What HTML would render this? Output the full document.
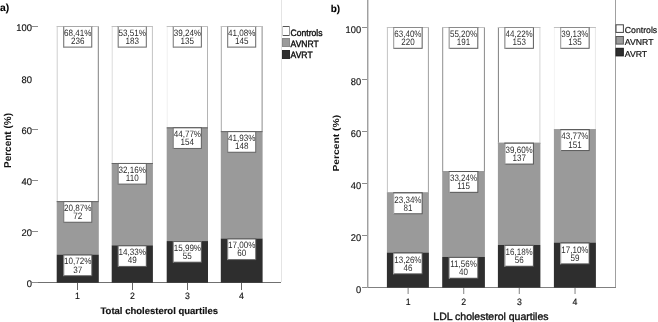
<!DOCTYPE html>
<html><head><meta charset="utf-8"><style>
html,body{margin:0;padding:0;background:#fff;}
body{width:658px;height:322px;overflow:hidden;}
svg{display:block;font-family:"Liberation Sans", sans-serif;will-change:transform;text-rendering:geometricPrecision;}
</style></head><body>
<svg width="658" height="322" viewBox="0 0 658 322">
<rect x="0" y="0" width="658" height="322" fill="#fff"/>
<rect x="32.00" y="282.00" width="249.00" height="1.00" fill="#707070"/>
<rect x="56.70" y="26.00" width="42.10" height="175.13" fill="#fff"/>
<rect x="56.70" y="26.00" width="1.00" height="175.13" fill="#cfcfcf"/>
<rect x="97.80" y="26.00" width="1.00" height="175.13" fill="#808080"/>
<rect x="56.70" y="26.00" width="42.10" height="1.00" fill="#c0c0c0"/>
<rect x="56.70" y="201.13" width="42.10" height="53.43" fill="#9a9a9a"/>
<rect x="56.70" y="201.13" width="42.10" height="1.00" fill="#666666"/>
<rect x="56.70" y="254.56" width="42.10" height="28.14" fill="#2e2e2e"/>
<rect x="63.25" y="254.56" width="29.00" height="21.60" fill="#666666"/>
<rect x="63.25" y="254.56" width="1.00" height="21.60" fill="#8a8a8a"/>
<rect x="63.25" y="254.56" width="29.00" height="1.00" fill="#666666"/>
<rect x="64.25" y="255.56" width="27.00" height="19.60" fill="#fff"/>
<text transform="translate(77.75,264.46) scale(0.88,1)" text-anchor="middle" font-size="9.2" font-weight="normal" fill="#2a2a2a">10,72%</text>
<text transform="translate(77.75,272.56) scale(0.88,1)" text-anchor="middle" font-size="9.2" font-weight="normal" fill="#2a2a2a">37</text>
<rect x="63.25" y="201.13" width="29.00" height="21.60" fill="#666666"/>
<rect x="63.25" y="201.13" width="1.00" height="21.60" fill="#8a8a8a"/>
<rect x="63.25" y="201.13" width="29.00" height="1.00" fill="#666666"/>
<rect x="64.25" y="202.13" width="27.00" height="19.60" fill="#fff"/>
<text transform="translate(77.75,211.03) scale(0.88,1)" text-anchor="middle" font-size="9.2" font-weight="normal" fill="#2a2a2a">20,87%</text>
<text transform="translate(77.75,219.13) scale(0.88,1)" text-anchor="middle" font-size="9.2" font-weight="normal" fill="#2a2a2a">72</text>
<rect x="63.25" y="26.00" width="29.00" height="21.60" fill="#666666"/>
<rect x="63.25" y="26.00" width="1.00" height="21.60" fill="#8a8a8a"/>
<rect x="63.25" y="26.00" width="29.00" height="1.00" fill="#a8a8a8"/>
<rect x="64.25" y="27.00" width="27.00" height="19.60" fill="#fff"/>
<text transform="translate(77.75,35.90) scale(0.88,1)" text-anchor="middle" font-size="9.2" font-weight="normal" fill="#2a2a2a">68,41%</text>
<text transform="translate(77.75,44.00) scale(0.88,1)" text-anchor="middle" font-size="9.2" font-weight="normal" fill="#2a2a2a">236</text>
<rect x="111.70" y="26.00" width="41.20" height="136.99" fill="#fff"/>
<rect x="111.70" y="26.00" width="1.00" height="136.99" fill="#dcdcdc"/>
<rect x="151.90" y="26.00" width="1.00" height="136.99" fill="#c4c4c4"/>
<rect x="111.70" y="26.00" width="41.20" height="1.00" fill="#c0c0c0"/>
<rect x="111.70" y="162.99" width="41.20" height="82.33" fill="#9a9a9a"/>
<rect x="111.70" y="162.99" width="41.20" height="1.00" fill="#666666"/>
<rect x="111.70" y="245.32" width="41.20" height="37.38" fill="#2e2e2e"/>
<rect x="117.80" y="245.32" width="29.00" height="21.60" fill="#666666"/>
<rect x="117.80" y="245.32" width="1.00" height="21.60" fill="#8a8a8a"/>
<rect x="117.80" y="245.32" width="29.00" height="1.00" fill="#666666"/>
<rect x="118.80" y="246.32" width="27.00" height="19.60" fill="#fff"/>
<text transform="translate(132.30,255.22) scale(0.88,1)" text-anchor="middle" font-size="9.2" font-weight="normal" fill="#2a2a2a">14,33%</text>
<text transform="translate(132.30,263.32) scale(0.88,1)" text-anchor="middle" font-size="9.2" font-weight="normal" fill="#2a2a2a">49</text>
<rect x="117.80" y="162.99" width="29.00" height="21.60" fill="#666666"/>
<rect x="117.80" y="162.99" width="1.00" height="21.60" fill="#8a8a8a"/>
<rect x="117.80" y="162.99" width="29.00" height="1.00" fill="#666666"/>
<rect x="118.80" y="163.99" width="27.00" height="19.60" fill="#fff"/>
<text transform="translate(132.30,172.89) scale(0.88,1)" text-anchor="middle" font-size="9.2" font-weight="normal" fill="#2a2a2a">32,16%</text>
<text transform="translate(132.30,180.99) scale(0.88,1)" text-anchor="middle" font-size="9.2" font-weight="normal" fill="#2a2a2a">110</text>
<rect x="117.80" y="26.00" width="29.00" height="21.60" fill="#666666"/>
<rect x="117.80" y="26.00" width="1.00" height="21.60" fill="#8a8a8a"/>
<rect x="117.80" y="26.00" width="29.00" height="1.00" fill="#a8a8a8"/>
<rect x="118.80" y="27.00" width="27.00" height="19.60" fill="#fff"/>
<text transform="translate(132.30,35.90) scale(0.88,1)" text-anchor="middle" font-size="9.2" font-weight="normal" fill="#2a2a2a">53,51%</text>
<text transform="translate(132.30,44.00) scale(0.88,1)" text-anchor="middle" font-size="9.2" font-weight="normal" fill="#2a2a2a">183</text>
<rect x="166.70" y="26.00" width="41.30" height="101.35" fill="#fff"/>
<rect x="166.70" y="26.00" width="1.00" height="101.35" fill="#f0f0f0"/>
<rect x="207.00" y="26.00" width="1.00" height="101.35" fill="#b4b4b4"/>
<rect x="166.70" y="26.00" width="41.30" height="1.00" fill="#c0c0c0"/>
<rect x="166.70" y="127.35" width="41.30" height="113.71" fill="#9a9a9a"/>
<rect x="166.70" y="127.35" width="41.30" height="1.00" fill="#666666"/>
<rect x="166.70" y="241.07" width="41.30" height="41.63" fill="#2e2e2e"/>
<rect x="172.85" y="241.07" width="29.00" height="21.60" fill="#666666"/>
<rect x="172.85" y="241.07" width="1.00" height="21.60" fill="#8a8a8a"/>
<rect x="172.85" y="241.07" width="29.00" height="1.00" fill="#666666"/>
<rect x="173.85" y="242.07" width="27.00" height="19.60" fill="#fff"/>
<text transform="translate(187.35,250.97) scale(0.88,1)" text-anchor="middle" font-size="9.2" font-weight="normal" fill="#2a2a2a">15,99%</text>
<text transform="translate(187.35,259.07) scale(0.88,1)" text-anchor="middle" font-size="9.2" font-weight="normal" fill="#2a2a2a">55</text>
<rect x="172.85" y="127.35" width="29.00" height="21.60" fill="#666666"/>
<rect x="172.85" y="127.35" width="1.00" height="21.60" fill="#8a8a8a"/>
<rect x="172.85" y="127.35" width="29.00" height="1.00" fill="#666666"/>
<rect x="173.85" y="128.35" width="27.00" height="19.60" fill="#fff"/>
<text transform="translate(187.35,137.25) scale(0.88,1)" text-anchor="middle" font-size="9.2" font-weight="normal" fill="#2a2a2a">44,77%</text>
<text transform="translate(187.35,145.35) scale(0.88,1)" text-anchor="middle" font-size="9.2" font-weight="normal" fill="#2a2a2a">154</text>
<rect x="172.85" y="26.00" width="29.00" height="21.60" fill="#666666"/>
<rect x="172.85" y="26.00" width="1.00" height="21.60" fill="#8a8a8a"/>
<rect x="172.85" y="26.00" width="29.00" height="1.00" fill="#a8a8a8"/>
<rect x="173.85" y="27.00" width="27.00" height="19.60" fill="#fff"/>
<text transform="translate(187.35,35.90) scale(0.88,1)" text-anchor="middle" font-size="9.2" font-weight="normal" fill="#2a2a2a">39,24%</text>
<text transform="translate(187.35,44.00) scale(0.88,1)" text-anchor="middle" font-size="9.2" font-weight="normal" fill="#2a2a2a">135</text>
<rect x="220.80" y="26.00" width="41.80" height="105.14" fill="#fff"/>
<rect x="220.80" y="26.00" width="1.00" height="105.14" fill="#a8a8a8"/>
<rect x="261.60" y="26.00" width="1.00" height="105.14" fill="#8c8c8c"/>
<rect x="220.80" y="26.00" width="41.80" height="1.00" fill="#c0c0c0"/>
<rect x="220.80" y="131.14" width="41.80" height="107.34" fill="#9a9a9a"/>
<rect x="220.80" y="131.14" width="41.80" height="1.00" fill="#666666"/>
<rect x="220.80" y="238.48" width="41.80" height="44.22" fill="#2e2e2e"/>
<rect x="227.20" y="238.48" width="29.00" height="21.60" fill="#666666"/>
<rect x="227.20" y="238.48" width="1.00" height="21.60" fill="#8a8a8a"/>
<rect x="227.20" y="238.48" width="29.00" height="1.00" fill="#666666"/>
<rect x="228.20" y="239.48" width="27.00" height="19.60" fill="#fff"/>
<text transform="translate(241.70,248.38) scale(0.88,1)" text-anchor="middle" font-size="9.2" font-weight="normal" fill="#2a2a2a">17,00%</text>
<text transform="translate(241.70,256.48) scale(0.88,1)" text-anchor="middle" font-size="9.2" font-weight="normal" fill="#2a2a2a">60</text>
<rect x="227.20" y="131.14" width="29.00" height="21.60" fill="#666666"/>
<rect x="227.20" y="131.14" width="1.00" height="21.60" fill="#8a8a8a"/>
<rect x="227.20" y="131.14" width="29.00" height="1.00" fill="#666666"/>
<rect x="228.20" y="132.14" width="27.00" height="19.60" fill="#fff"/>
<text transform="translate(241.70,141.04) scale(0.88,1)" text-anchor="middle" font-size="9.2" font-weight="normal" fill="#2a2a2a">41,93%</text>
<text transform="translate(241.70,149.14) scale(0.88,1)" text-anchor="middle" font-size="9.2" font-weight="normal" fill="#2a2a2a">148</text>
<rect x="227.20" y="26.00" width="29.00" height="21.60" fill="#666666"/>
<rect x="227.20" y="26.00" width="1.00" height="21.60" fill="#8a8a8a"/>
<rect x="227.20" y="26.00" width="29.00" height="1.00" fill="#a8a8a8"/>
<rect x="228.20" y="27.00" width="27.00" height="19.60" fill="#fff"/>
<text transform="translate(241.70,35.90) scale(0.88,1)" text-anchor="middle" font-size="9.2" font-weight="normal" fill="#2a2a2a">41,08%</text>
<text transform="translate(241.70,44.00) scale(0.88,1)" text-anchor="middle" font-size="9.2" font-weight="normal" fill="#2a2a2a">145</text>
<rect x="281.00" y="0.00" width="1.00" height="282.00" fill="#e4e4e4"/>
<rect x="32.00" y="282.00" width="6.00" height="1.00" fill="#8c8c8c"/>
<text transform="translate(31.90,287.40) scale(0.97,1)" text-anchor="end" font-size="9.7" font-weight="normal" fill="#111111" stroke="#111111" stroke-width="0.15">0</text>
<rect x="32.00" y="231.00" width="6.00" height="1.00" fill="#8c8c8c"/>
<text transform="translate(31.90,236.40) scale(0.97,1)" text-anchor="end" font-size="9.7" font-weight="normal" fill="#111111" stroke="#111111" stroke-width="0.15">20</text>
<rect x="32.00" y="180.00" width="6.00" height="1.00" fill="#8c8c8c"/>
<text transform="translate(31.90,185.40) scale(0.97,1)" text-anchor="end" font-size="9.7" font-weight="normal" fill="#111111" stroke="#111111" stroke-width="0.15">40</text>
<rect x="32.00" y="129.00" width="6.00" height="1.00" fill="#8c8c8c"/>
<text transform="translate(31.90,134.40) scale(0.97,1)" text-anchor="end" font-size="9.7" font-weight="normal" fill="#111111" stroke="#111111" stroke-width="0.15">60</text>
<text transform="translate(31.90,82.90) scale(0.97,1)" text-anchor="end" font-size="9.7" font-weight="normal" fill="#111111" stroke="#111111" stroke-width="0.15">80</text>
<rect x="32.00" y="26.00" width="6.00" height="1.00" fill="#8c8c8c"/>
<text transform="translate(31.90,31.40) scale(0.97,1)" text-anchor="end" font-size="9.7" font-weight="normal" fill="#111111" stroke="#111111" stroke-width="0.15">100</text>
<rect x="77.00" y="283.00" width="1.00" height="7.00" fill="#666666"/>
<text transform="translate(77.50,298.80) scale(0.95,1)" text-anchor="middle" font-size="9.2" font-weight="normal" fill="#111111" stroke="#111111" stroke-width="0.15">1</text>
<rect x="132.00" y="283.00" width="1.00" height="7.00" fill="#666666"/>
<text transform="translate(132.50,298.80) scale(0.95,1)" text-anchor="middle" font-size="9.2" font-weight="normal" fill="#111111" stroke="#111111" stroke-width="0.15">2</text>
<rect x="187.00" y="283.00" width="1.00" height="7.00" fill="#666666"/>
<text transform="translate(187.50,298.80) scale(0.95,1)" text-anchor="middle" font-size="9.2" font-weight="normal" fill="#111111" stroke="#111111" stroke-width="0.15">3</text>
<rect x="241.00" y="283.00" width="1.00" height="7.00" fill="#666666"/>
<text transform="translate(241.50,298.80) scale(0.95,1)" text-anchor="middle" font-size="9.2" font-weight="normal" fill="#111111" stroke="#111111" stroke-width="0.15">4</text>
<rect x="282.00" y="26.00" width="8.00" height="10.00" fill="#555"/>
<rect x="282.00" y="26.00" width="1.00" height="10.00" fill="#c8c8c8"/>
<rect x="289.00" y="26.00" width="1.00" height="10.00" fill="#999999"/>
<rect x="283.00" y="27.00" width="6.00" height="8.00" fill="#ffffff"/>
<text transform="translate(290.60,35.60) scale(0.92,1)" text-anchor="start" font-size="9.3" font-weight="normal" fill="#111111" stroke="#111111" stroke-width="0.4">Controls</text>
<rect x="282.00" y="38.00" width="8.00" height="9.00" fill="#8a8a8a"/>
<rect x="283.00" y="39.00" width="6.00" height="7.00" fill="#9a9a9a"/>
<text transform="translate(290.60,47.00) scale(0.92,1)" text-anchor="start" font-size="9.3" font-weight="normal" fill="#111111" stroke="#111111" stroke-width="0.4">AVNRT</text>
<rect x="282.00" y="50.00" width="8.00" height="9.00" fill="#2a2a2a"/>
<rect x="283.00" y="51.00" width="6.00" height="7.00" fill="#2e2e2e"/>
<text transform="translate(290.60,58.20) scale(0.92,1)" text-anchor="start" font-size="9.3" font-weight="normal" fill="#111111" stroke="#111111" stroke-width="0.4">AVRT</text>
<text transform="translate(100.50,314.20)" text-anchor="start" font-size="9.5" font-weight="bold" fill="#111111" stroke="#111111" stroke-width="0.15">Total cholesterol quartiles</text>
<text transform="translate(10.9,140.5) rotate(-90) scale(1,1.0)" text-anchor="middle" font-size="10" font-weight="bold" fill="#111111" stroke="#111111" stroke-width="0">Percent (%)</text>
<text transform="translate(0.10,10.60)" text-anchor="start" font-size="10.3" font-weight="bold" fill="#000" stroke="#000" stroke-width="0.1">a)</text>
<rect x="362.00" y="287.00" width="254.00" height="1.00" fill="#808080"/>
<rect x="386.90" y="27.00" width="42.00" height="165.44" fill="#fff"/>
<rect x="386.90" y="27.00" width="1.00" height="165.44" fill="#c4c4c4"/>
<rect x="427.90" y="27.00" width="1.00" height="165.44" fill="#a0a0a0"/>
<rect x="386.90" y="27.00" width="42.00" height="1.00" fill="#c0c0c0"/>
<rect x="386.90" y="192.44" width="42.00" height="60.08" fill="#9a9a9a"/>
<rect x="386.90" y="192.44" width="42.00" height="1.00" fill="#9a9a9a"/>
<rect x="386.90" y="252.52" width="42.00" height="35.12" fill="#2e2e2e"/>
<rect x="393.15" y="252.52" width="29.50" height="21.80" fill="#5a5a5a"/>
<rect x="393.15" y="252.52" width="1.00" height="21.80" fill="#b4b4b4"/>
<rect x="393.15" y="252.52" width="29.50" height="1.00" fill="#5a5a5a"/>
<rect x="394.15" y="253.52" width="27.50" height="19.80" fill="#fff"/>
<text transform="translate(407.90,262.62) scale(0.862,1)" text-anchor="middle" font-size="9.3" font-weight="normal" fill="#303030">13,26%</text>
<text transform="translate(407.90,270.82) scale(0.862,1)" text-anchor="middle" font-size="9.3" font-weight="normal" fill="#303030">46</text>
<rect x="393.15" y="192.44" width="29.50" height="21.80" fill="#5a5a5a"/>
<rect x="393.15" y="192.44" width="1.00" height="21.80" fill="#b4b4b4"/>
<rect x="393.15" y="192.44" width="29.50" height="1.00" fill="#5a5a5a"/>
<rect x="394.15" y="193.44" width="27.50" height="19.80" fill="#fff"/>
<text transform="translate(407.90,202.54) scale(0.862,1)" text-anchor="middle" font-size="9.3" font-weight="normal" fill="#303030">23,34%</text>
<text transform="translate(407.90,210.74) scale(0.862,1)" text-anchor="middle" font-size="9.3" font-weight="normal" fill="#303030">81</text>
<rect x="393.15" y="27.00" width="29.50" height="21.80" fill="#5a5a5a"/>
<rect x="393.15" y="27.00" width="1.00" height="21.80" fill="#b4b4b4"/>
<rect x="393.15" y="27.00" width="29.50" height="1.00" fill="#8a8a8a"/>
<rect x="394.15" y="28.00" width="27.50" height="19.80" fill="#fff"/>
<text transform="translate(407.90,37.10) scale(0.862,1)" text-anchor="middle" font-size="9.3" font-weight="normal" fill="#303030">63,40%</text>
<text transform="translate(407.90,45.30) scale(0.862,1)" text-anchor="middle" font-size="9.3" font-weight="normal" fill="#303030">220</text>
<rect x="442.20" y="27.00" width="42.70" height="144.02" fill="#fff"/>
<rect x="442.20" y="27.00" width="1.00" height="144.02" fill="#909090"/>
<rect x="483.90" y="27.00" width="1.00" height="144.02" fill="#8a8a8a"/>
<rect x="442.20" y="27.00" width="42.70" height="1.00" fill="#c0c0c0"/>
<rect x="442.20" y="171.02" width="42.70" height="85.92" fill="#9a9a9a"/>
<rect x="442.20" y="171.02" width="42.70" height="1.00" fill="#9a9a9a"/>
<rect x="442.20" y="256.94" width="42.70" height="30.70" fill="#2e2e2e"/>
<rect x="448.80" y="256.94" width="29.50" height="21.80" fill="#5a5a5a"/>
<rect x="448.80" y="256.94" width="1.00" height="21.80" fill="#b4b4b4"/>
<rect x="448.80" y="256.94" width="29.50" height="1.00" fill="#5a5a5a"/>
<rect x="449.80" y="257.94" width="27.50" height="19.80" fill="#fff"/>
<text transform="translate(463.55,267.04) scale(0.862,1)" text-anchor="middle" font-size="9.3" font-weight="normal" fill="#303030">11,56%</text>
<text transform="translate(463.55,275.24) scale(0.862,1)" text-anchor="middle" font-size="9.3" font-weight="normal" fill="#303030">40</text>
<rect x="448.80" y="171.02" width="29.50" height="21.80" fill="#5a5a5a"/>
<rect x="448.80" y="171.02" width="1.00" height="21.80" fill="#b4b4b4"/>
<rect x="448.80" y="171.02" width="29.50" height="1.00" fill="#5a5a5a"/>
<rect x="449.80" y="172.02" width="27.50" height="19.80" fill="#fff"/>
<text transform="translate(463.55,181.12) scale(0.862,1)" text-anchor="middle" font-size="9.3" font-weight="normal" fill="#303030">33,24%</text>
<text transform="translate(463.55,189.32) scale(0.862,1)" text-anchor="middle" font-size="9.3" font-weight="normal" fill="#303030">115</text>
<rect x="448.80" y="27.00" width="29.50" height="21.80" fill="#5a5a5a"/>
<rect x="448.80" y="27.00" width="1.00" height="21.80" fill="#b4b4b4"/>
<rect x="448.80" y="27.00" width="29.50" height="1.00" fill="#8a8a8a"/>
<rect x="449.80" y="28.00" width="27.50" height="19.80" fill="#fff"/>
<text transform="translate(463.55,37.10) scale(0.862,1)" text-anchor="middle" font-size="9.3" font-weight="normal" fill="#303030">55,20%</text>
<text transform="translate(463.55,45.30) scale(0.862,1)" text-anchor="middle" font-size="9.3" font-weight="normal" fill="#303030">191</text>
<rect x="497.90" y="27.00" width="42.50" height="115.77" fill="#fff"/>
<rect x="497.90" y="27.00" width="1.00" height="115.77" fill="#808080"/>
<rect x="539.40" y="27.00" width="1.00" height="115.77" fill="#d4d4d4"/>
<rect x="497.90" y="27.00" width="42.50" height="1.00" fill="#c0c0c0"/>
<rect x="497.90" y="142.77" width="42.50" height="102.16" fill="#9a9a9a"/>
<rect x="497.90" y="142.77" width="42.50" height="1.00" fill="#9a9a9a"/>
<rect x="497.90" y="244.93" width="42.50" height="42.71" fill="#2e2e2e"/>
<rect x="504.40" y="244.93" width="29.50" height="21.80" fill="#5a5a5a"/>
<rect x="504.40" y="244.93" width="1.00" height="21.80" fill="#b4b4b4"/>
<rect x="504.40" y="244.93" width="29.50" height="1.00" fill="#5a5a5a"/>
<rect x="505.40" y="245.93" width="27.50" height="19.80" fill="#fff"/>
<text transform="translate(519.15,255.03) scale(0.862,1)" text-anchor="middle" font-size="9.3" font-weight="normal" fill="#303030">16,18%</text>
<text transform="translate(519.15,263.23) scale(0.862,1)" text-anchor="middle" font-size="9.3" font-weight="normal" fill="#303030">56</text>
<rect x="504.40" y="142.77" width="29.50" height="21.80" fill="#5a5a5a"/>
<rect x="504.40" y="142.77" width="1.00" height="21.80" fill="#b4b4b4"/>
<rect x="504.40" y="142.77" width="29.50" height="1.00" fill="#5a5a5a"/>
<rect x="505.40" y="143.77" width="27.50" height="19.80" fill="#fff"/>
<text transform="translate(519.15,152.87) scale(0.862,1)" text-anchor="middle" font-size="9.3" font-weight="normal" fill="#303030">39,60%</text>
<text transform="translate(519.15,161.07) scale(0.862,1)" text-anchor="middle" font-size="9.3" font-weight="normal" fill="#303030">137</text>
<rect x="504.40" y="27.00" width="29.50" height="21.80" fill="#5a5a5a"/>
<rect x="504.40" y="27.00" width="1.00" height="21.80" fill="#b4b4b4"/>
<rect x="504.40" y="27.00" width="29.50" height="1.00" fill="#8a8a8a"/>
<rect x="505.40" y="28.00" width="27.50" height="19.80" fill="#fff"/>
<text transform="translate(519.15,37.10) scale(0.862,1)" text-anchor="middle" font-size="9.3" font-weight="normal" fill="#303030">44,22%</text>
<text transform="translate(519.15,45.30) scale(0.862,1)" text-anchor="middle" font-size="9.3" font-weight="normal" fill="#303030">153</text>
<rect x="553.90" y="27.00" width="42.00" height="102.24" fill="#fff"/>
<rect x="553.90" y="27.00" width="1.00" height="102.24" fill="#f4f4f4"/>
<rect x="594.90" y="27.00" width="1.00" height="102.24" fill="#e8e8e8"/>
<rect x="553.90" y="27.00" width="42.00" height="1.00" fill="#c0c0c0"/>
<rect x="553.90" y="129.24" width="42.00" height="113.30" fill="#9a9a9a"/>
<rect x="553.90" y="129.24" width="42.00" height="1.00" fill="#9a9a9a"/>
<rect x="553.90" y="242.54" width="42.00" height="45.10" fill="#2e2e2e"/>
<rect x="560.15" y="242.54" width="29.50" height="21.80" fill="#5a5a5a"/>
<rect x="560.15" y="242.54" width="1.00" height="21.80" fill="#b4b4b4"/>
<rect x="560.15" y="242.54" width="29.50" height="1.00" fill="#5a5a5a"/>
<rect x="561.15" y="243.54" width="27.50" height="19.80" fill="#fff"/>
<text transform="translate(574.90,252.64) scale(0.862,1)" text-anchor="middle" font-size="9.3" font-weight="normal" fill="#303030">17,10%</text>
<text transform="translate(574.90,260.84) scale(0.862,1)" text-anchor="middle" font-size="9.3" font-weight="normal" fill="#303030">59</text>
<rect x="560.15" y="129.24" width="29.50" height="21.80" fill="#5a5a5a"/>
<rect x="560.15" y="129.24" width="1.00" height="21.80" fill="#b4b4b4"/>
<rect x="560.15" y="129.24" width="29.50" height="1.00" fill="#5a5a5a"/>
<rect x="561.15" y="130.24" width="27.50" height="19.80" fill="#fff"/>
<text transform="translate(574.90,139.34) scale(0.862,1)" text-anchor="middle" font-size="9.3" font-weight="normal" fill="#303030">43,77%</text>
<text transform="translate(574.90,147.54) scale(0.862,1)" text-anchor="middle" font-size="9.3" font-weight="normal" fill="#303030">151</text>
<rect x="560.15" y="27.00" width="29.50" height="21.80" fill="#5a5a5a"/>
<rect x="560.15" y="27.00" width="1.00" height="21.80" fill="#b4b4b4"/>
<rect x="560.15" y="27.00" width="29.50" height="1.00" fill="#8a8a8a"/>
<rect x="561.15" y="28.00" width="27.50" height="19.80" fill="#fff"/>
<text transform="translate(574.90,37.10) scale(0.862,1)" text-anchor="middle" font-size="9.3" font-weight="normal" fill="#303030">39,13%</text>
<text transform="translate(574.90,45.30) scale(0.862,1)" text-anchor="middle" font-size="9.3" font-weight="normal" fill="#303030">135</text>
<rect x="615.00" y="0.00" width="1.00" height="287.00" fill="#a0a0a0"/>
<rect x="367.00" y="0.00" width="1.00" height="288.00" fill="#a0a0a0"/>
<rect x="368.00" y="0.00" width="1.00" height="287.00" fill="#d4d4d4"/>
<rect x="362.00" y="287.00" width="5.00" height="1.00" fill="#8c8c8c"/>
<text transform="translate(361.10,292.80) scale(0.95,1)" text-anchor="end" font-size="9.8" font-weight="normal" fill="#111111" stroke="#111111" stroke-width="0.15">0</text>
<rect x="362.00" y="235.00" width="5.00" height="1.00" fill="#8c8c8c"/>
<text transform="translate(361.10,240.80) scale(0.95,1)" text-anchor="end" font-size="9.8" font-weight="normal" fill="#111111" stroke="#111111" stroke-width="0.15">20</text>
<rect x="362.00" y="183.00" width="5.00" height="1.00" fill="#8c8c8c"/>
<text transform="translate(361.10,188.80) scale(0.95,1)" text-anchor="end" font-size="9.8" font-weight="normal" fill="#111111" stroke="#111111" stroke-width="0.15">40</text>
<rect x="362.00" y="131.00" width="5.00" height="1.00" fill="#8c8c8c"/>
<text transform="translate(361.10,136.80) scale(0.95,1)" text-anchor="end" font-size="9.8" font-weight="normal" fill="#111111" stroke="#111111" stroke-width="0.15">60</text>
<rect x="362.00" y="79.00" width="5.00" height="1.00" fill="#8c8c8c"/>
<text transform="translate(361.10,84.80) scale(0.95,1)" text-anchor="end" font-size="9.8" font-weight="normal" fill="#111111" stroke="#111111" stroke-width="0.15">80</text>
<rect x="362.00" y="27.00" width="5.00" height="1.00" fill="#8c8c8c"/>
<text transform="translate(361.10,32.80) scale(0.95,1)" text-anchor="end" font-size="9.8" font-weight="normal" fill="#111111" stroke="#111111" stroke-width="0.15">100</text>
<rect x="407.50" y="288.00" width="1.30" height="6.00" fill="#a0a0a0"/>
<text transform="translate(408.15,304.70) scale(0.95,1)" text-anchor="middle" font-size="9.2" font-weight="normal" fill="#111111" stroke="#111111" stroke-width="0.15">1</text>
<rect x="463.00" y="288.00" width="1.30" height="6.00" fill="#a0a0a0"/>
<text transform="translate(463.65,304.70) scale(0.95,1)" text-anchor="middle" font-size="9.2" font-weight="normal" fill="#111111" stroke="#111111" stroke-width="0.15">2</text>
<rect x="518.70" y="288.00" width="1.30" height="6.00" fill="#a0a0a0"/>
<text transform="translate(519.35,304.70) scale(0.95,1)" text-anchor="middle" font-size="9.2" font-weight="normal" fill="#111111" stroke="#111111" stroke-width="0.15">3</text>
<rect x="574.40" y="288.00" width="1.30" height="6.00" fill="#a0a0a0"/>
<text transform="translate(575.05,304.70) scale(0.95,1)" text-anchor="middle" font-size="9.2" font-weight="normal" fill="#111111" stroke="#111111" stroke-width="0.15">4</text>
<rect x="615.50" y="24.30" width="8.40" height="8.60" fill="#444"/>
<rect x="616.50" y="25.30" width="6.40" height="6.60" fill="#ffffff"/>
<text transform="translate(624.80,33.10)" text-anchor="start" font-size="8.7" font-weight="normal" fill="#111111" stroke="#111111" stroke-width="0.2">Controls</text>
<rect x="615.50" y="36.00" width="8.40" height="8.60" fill="#555"/>
<rect x="616.50" y="37.00" width="6.40" height="6.60" fill="#9a9a9a"/>
<text transform="translate(624.80,44.80)" text-anchor="start" font-size="8.7" font-weight="normal" fill="#111111" stroke="#111111" stroke-width="0.2">AVNRT</text>
<rect x="615.50" y="47.80" width="8.40" height="8.60" fill="#222"/>
<rect x="616.50" y="48.80" width="6.40" height="6.60" fill="#2e2e2e"/>
<text transform="translate(624.80,56.60)" text-anchor="start" font-size="8.7" font-weight="normal" fill="#111111" stroke="#111111" stroke-width="0.2">AVRT</text>
<text transform="translate(433.30,319.60)" text-anchor="start" font-size="10.5" font-weight="normal" fill="#111111" stroke="#111111" stroke-width="0.35">LDL cholesterol quartiles</text>
<text transform="translate(339.4,143.2) rotate(-90) scale(1,0.85)" text-anchor="middle" font-size="10.3" font-weight="bold" fill="#111111" stroke="#111111" stroke-width="0">Percent (%)</text>
<text transform="translate(330.70,11.60)" text-anchor="start" font-size="10" font-weight="bold" fill="#000" stroke="#000" stroke-width="0.1">b)</text>
</svg>
</body></html>
